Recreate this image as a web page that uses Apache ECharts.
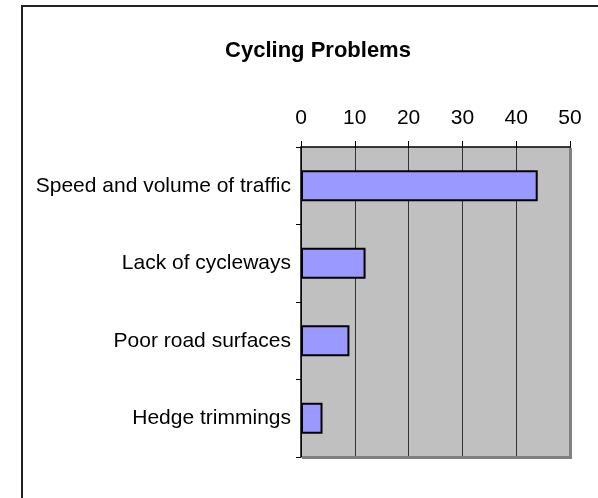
<!DOCTYPE html>
<html>
<head>
<meta charset="utf-8">
<script src="https://cdn.jsdelivr.net/npm/echarts@6/dist/echarts.min.js"></script>
<style>
html,body{margin:0;padding:0;background:#fff;}
#chart{width:598px;height:498px;}
</style>
</head>
<body>
<div id="chart"></div>
<script>
const categories = ["Speed and volume of traffic", "Lack of cycleways", "Poor road surfaces", "Hedge trimmings"];
const values = [44, 12, 9, 4];
const titleText = "Cycling Problems";

const chart = echarts.init(document.getElementById('chart'), null, {renderer: 'canvas'});
chart.setOption({
  animation: false,
  backgroundColor: '#ffffff',
  title: {
    text: titleText,
    left: 313, top: 35, textAlign: 'center',
    textStyle: {fontFamily: 'Liberation Sans, Arial, sans-serif', fontWeight: 'bold', fontSize: 22, color: '#000'}
  },
  graphic: [{
    type: 'rect', silent: true, z: -1,
    shape: {x: 22, y: 6, width: 620, height: 600},
    style: {fill: 'none', stroke: '#222', lineWidth: 2}
  }, {
    type: 'polyline', silent: true, z: 1,
    shape: {points: [[570.5, 148], [570.5, 457.5], [302, 457.5]]},
    style: {fill: 'none', stroke: '#808080', lineWidth: 3}
  }],
  grid: {
    left: 301, top: 147, right: 28, bottom: 41,
    show: true, backgroundColor: '#C0C0C0', borderColor: '#C0C0C0', borderWidth: 0
  },
  xAxis: {
    type: 'value', position: 'top', min: 0, max: 50, interval: 10,
    axisLine: {show: true, lineStyle: {color: '#000', width: 1.5}},
    axisTick: {show: true, length: 6, lineStyle: {color: '#000'}},
    axisLabel: {margin: 18, fontSize: 21, color: '#000', fontFamily: 'Liberation Sans, Arial, sans-serif'},
    splitLine: {show: true, lineStyle: {color: '#333', width: 1}}
  },
  yAxis: {
    type: 'category', data: categories, inverse: true,
    axisLine: {show: true, lineStyle: {color: '#000', width: 1.5}},
    axisTick: {show: true, length: 5, alignWithLabel: false, lineStyle: {color: '#000'}},
    axisLabel: {margin: 10, fontSize: 21, color: '#000', fontFamily: 'Liberation Sans, Arial, sans-serif'},
    splitLine: {show: false}
  },
  series: [{
    type: 'bar', data: values, barCategoryGap: '60%',
    itemStyle: {color: '#9999FF', borderColor: '#000', borderWidth: 2}
  }]
});
</script>
</body>
</html>
